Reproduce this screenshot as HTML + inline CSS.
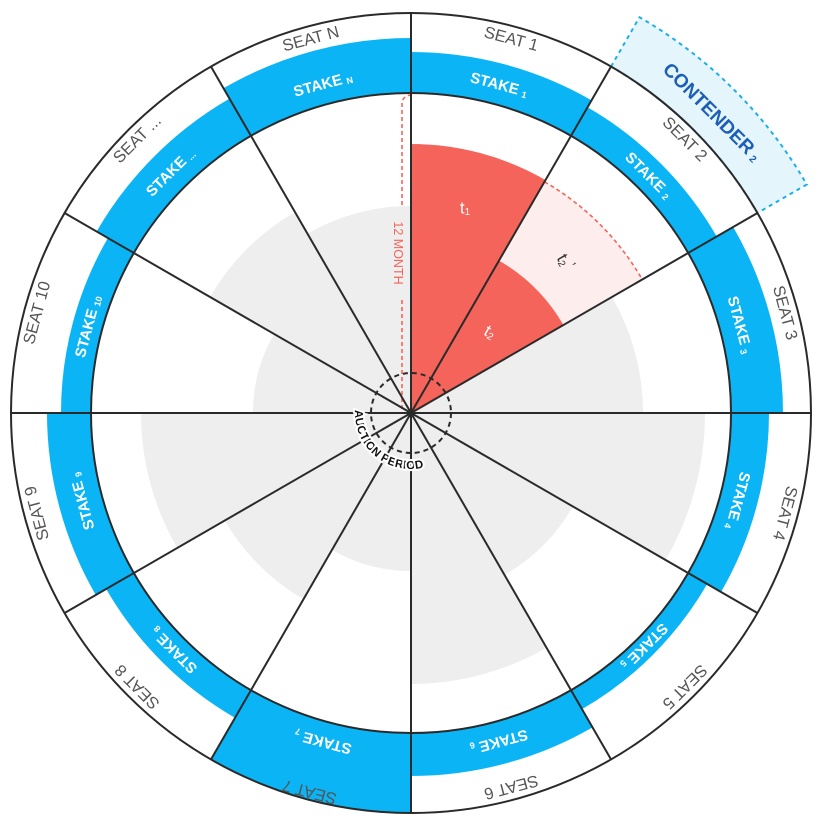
<!DOCTYPE html>
<html><head><meta charset="utf-8"><style>
html,body{margin:0;padding:0;background:#fff}
svg{display:block}
text{font-family:"Liberation Sans",sans-serif}
</style></head><body>
<svg id="chart" width="828" height="827" viewBox="0 0 828 827" xmlns="http://www.w3.org/2000/svg">
<g id="gGray"></g>
<g id="gRed"></g>
<g id="gBlue"></g>
<g id="gLines"></g>
<g id="gText"></g>
</svg>
<script>
const seatLabels = ['SEAT 1','SEAT 2','SEAT 3','SEAT 4','SEAT 5','SEAT 6','SEAT 7','SEAT 8','SEAT 9','SEAT 10','SEAT ...','SEAT N'];
const stakeSubs = ['1','2','3','4','5','6','7','8','9','10','...','N'];
const stakeOuter = [361,353,372,358,342,363,400,352,364,350,363,375];
const grayRadius = [230,230,232,294,187,271,158,215,270,158,232,207];
const termT1 = 269;
const termT2 = 176;
const termT2Prime = 267;

const NS='http://www.w3.org/2000/svg';
const cx=411, cy=413, R=400, RIN=320, STEP=30;
function P(r,a){const t=a*Math.PI/180;return [cx+r*Math.sin(t), cy-r*Math.cos(t)];}
function f(p){return p[0].toFixed(2)+' '+p[1].toFixed(2);}
function wedge(r,a0,a1){return 'M'+cx+' '+cy+' L'+f(P(r,a0))+' A'+r+' '+r+' 0 0 1 '+f(P(r,a1))+' Z';}
function ann(r1,r2,a0,a1){return 'M'+f(P(r1,a0))+' L'+f(P(r2,a0))+' A'+r2+' '+r2+' 0 0 1 '+f(P(r2,a1))+' L'+f(P(r1,a1))+' A'+r1+' '+r1+' 0 0 0 '+f(P(r1,a0))+' Z';}
function mk(tag,attrs,parent){const e=document.createElementNS(NS,tag);for(const k in attrs)e.setAttribute(k,attrs[k]);parent.appendChild(e);return e;}
const gG=document.getElementById('gGray'),gR=document.getElementById('gRed'),gB=document.getElementById('gBlue'),gL=document.getElementById('gLines'),gT=document.getElementById('gText');

grayRadius.forEach((r,i)=>{
  const e=mk('path',{d:wedge(r,i*STEP,(i+1)*STEP),fill:'#eeeeee'},gG);
  
  
});
let e;
e=mk('path',{d:ann(termT2,termT2Prime,30,60),fill:'#fdeeed'},gR);


e=mk('path',{d:wedge(termT1,0,30),fill:'#f4645a'},gR);


e=mk('path',{d:wedge(termT2,30,60),fill:'#f4645a'},gR);


e=mk('path',{d:'M'+f(P(termT2Prime,30))+' A'+termT2Prime+' '+termT2Prime+' 0 0 1 '+f(P(termT2Prime,60)),fill:'none',stroke:'#f4645a','stroke-width':1.6,'stroke-dasharray':'4 3'},gR);


e=mk('path',{d:'M402 205 L402 104 Q402 96 411 95 M402 300 L402 411',fill:'none',stroke:'#f4645a','stroke-width':1.6,'stroke-dasharray':'4 3'},gR);



stakeOuter.forEach((r,i)=>{
  const e=mk('path',{d:ann(RIN,r,i*STEP,(i+1)*STEP),fill:'#0bb4f5'},gB);
  
  
});
e=mk('path',{d:ann(R,457,30,60),fill:'#e4f5fc',stroke:'#1ab0e8','stroke-width':2,'stroke-dasharray':'4 4'},gB);



e=mk('circle',{cx:cx,cy:cy,r:R,fill:'none',stroke:'#2a2a2a','stroke-width':2},gL);


e=mk('circle',{cx:cx,cy:cy,r:RIN,fill:'none',stroke:'#2a2a2a','stroke-width':2},gL);


for(let i=0;i<12;i++){
  const p=P(R,i*STEP);
  const l=mk('line',{x1:cx,y1:cy,x2:p[0].toFixed(2),y2:p[1].toFixed(2),stroke:'#2a2a2a','stroke-width':2},gL);
  
  
}
e=mk('circle',{cx:cx,cy:cy,r:40,fill:'none',stroke:'#2a2a2a','stroke-width':2,'stroke-dasharray':'5 4'},gL);



seatLabels.forEach((s,i)=>{
  const a=i*STEP+15, r=(i===6)?392:387, p=P(r,a);
  const t=mk('text',{x:0,y:0,transform:'translate('+f(p).replace(' ',',')+') rotate('+a+')','text-anchor':'middle','dominant-baseline':'central','font-size':16.5,fill:'#555555'},gT);
  t.textContent=s;
  
  
});
stakeSubs.forEach((s,i)=>{
  const a=i*STEP+15, r=(RIN+Math.min(stakeOuter[i],362))/2-1, p=P(r,a);
  const t=mk('text',{x:0,y:0,transform:'translate('+f(p).replace(' ',',')+') rotate('+a+')','text-anchor':'middle','dominant-baseline':'central','font-size':15,'font-weight':'bold',fill:'#ffffff'},gT);
  t.appendChild(document.createTextNode('STAKE'));
  const ts=mk('tspan',{'font-size':9,dx:4,dy:3},t);
  ts.textContent=s;
  
  
});
(function(){
  const p=P(425,45);
  const t=mk('text',{x:0,y:0,transform:'translate('+f(p).replace(' ',',')+') rotate(45)','text-anchor':'middle','dominant-baseline':'central','font-size':19,'font-weight':'bold',fill:'#1d5eb6'},gT);
  t.appendChild(document.createTextNode('CONTENDER'));
  const ts=mk('tspan',{'font-size':10,dx:4,dy:4},t);
  ts.textContent='2';
  
  
})();
function tlabel(txt,sub,prime,x,y,rot,col,name){
  const t=mk('text',{x:0,y:0,transform:'translate('+x+','+y+') rotate('+rot+')','text-anchor':'middle','dominant-baseline':'central','font-size':17,fill:col},gT);
  t.appendChild(document.createTextNode(txt));
  const ts=mk('tspan',{'font-size':10,dy:4},t);ts.textContent=sub;
  if(prime){const tp=mk('tspan',{'font-size':14,dy:-8,dx:2},t);tp.textContent='\u2019';}
  
  
}
tlabel('t','1',false,465,208,0,'#ffffff','t1-label');
tlabel('t','2',false,490,332,30,'#ffffff','t2-label');
tlabel('t','2',true,565,262,60,'#333333','t2-prime-label');
e=mk('text',{x:0,y:0,transform:'translate(398,253) rotate(90)','text-anchor':'middle','dominant-baseline':'central','font-size':12.5,fill:'#f4645a'},gT);
e.textContent='12 MONTH';


e=mk('path',{id:'apPath',d:'M'+f(P(56,273))+' A56 56 0 0 0 '+f(P(56,130)),fill:'none'},gT);


e=mk('text',{'font-size':11.5,'font-weight':'bold',fill:'#111',stroke:'#fff','stroke-width':4,'paint-order':'stroke','letter-spacing':'0.3'},gT);
const tp=mk('textPath',{href:'#apPath'},e);
tp.textContent='AUCTION PERIOD';


</script>
</body></html>
